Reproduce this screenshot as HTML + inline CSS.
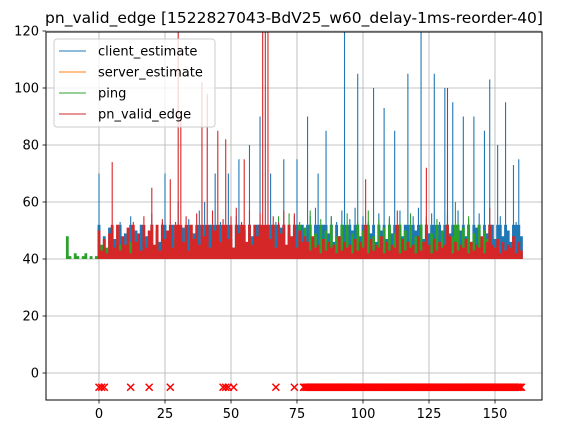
<!DOCTYPE html>
<html><head><meta charset="utf-8"><style>
html,body{margin:0;padding:0;background:#fff;}
svg{display:block;font-family:"DejaVu Sans","Liberation Sans",sans-serif;}
</style></head><body>
<svg id="chart" width="572" height="435" xmlns="http://www.w3.org/2000/svg">
<defs><clipPath id="clip"><rect x="46" y="32" width="496" height="368"/></clipPath></defs>
<text x="294" y="23" font-size="15.5" text-anchor="middle">pn_valid_edge [1522827043-BdV25_w60_delay-1ms-reorder-40]</text>
<g id="grid"></g>
<g id="series" clip-path="url(#clip)"></g>
<rect x="46" y="32" width="496" height="368" fill="none" stroke="#000" stroke-width="1"/>
<g id="ticks"></g>
<g>
<rect x="54" y="39" width="161" height="88" fill="#fff" fill-opacity="0.8" stroke="#ccc" rx="3"/>
<g><line x1="59" y1="51" x2="86" y2="51" stroke="#1f77b4" stroke-width="1"/><text x="98" y="55.5" font-size="13">client_estimate</text></g>
<g><line x1="59" y1="72" x2="86" y2="72" stroke="#ff7f0e" stroke-width="1"/><text x="98" y="76.5" font-size="13">server_estimate</text></g>
<g><line x1="59" y1="93" x2="86" y2="93" stroke="#2ca02c" stroke-width="1"/><text x="98" y="97.5" font-size="13">ping</text></g>
<g><line x1="59" y1="114" x2="86" y2="114" stroke="#d62728" stroke-width="1"/><text x="98" y="118.5" font-size="13">pn_valid_edge</text></g>
</g>
</svg>
<script>
const xTicks=[0,25,50,75,100,125,150];
const yTicks=[0,20,40,60,80,100,120];
const clientStart=0;
const clientValues=[70,44,48,43,51,42,47,45,53,44,49,43,55,46,50,42,52,45,48,44,56,43,50,46,53,70,47,44,52,45,60,43,51,46,54,44,49,45,57,43,60,46,52,44,70,45,53,43,50,70,47,44,55,75,46,50,43,80,48,45,52,90,46,50,44,70,47,53,45,51,75,44,49,46,55,75,45,52,47,90,55,46,58,70,47,52,85,49,55,46,53,48,57,120,47,54,50,58,105,48,55,47,53,49,100,46,56,50,93,47,54,49,85,46,57,48,52,105,47,55,50,58,120,47,54,49,56,105,48,53,46,100,55,49,95,47,57,50,90,48,54,46,90,51,56,47,85,49,103,52,47,80,55,48,95,50,46,73,53,75,48];
const pingStart=-13;
const pingValues=[40,48,41,40,42,41,40,41,42,40,41,40,41,
41,45,42,44,40,46,43,41,45,42,44,40,46,43,41,47,42,44,40,45,43,41,46,42,44,40,45,43,41,47,42,44,40,46,43,41,45,42,44,40,46,43,41,47,42,44,40,45,43,41,46,42,44,40,45,43,41,47,42,44,40,46,43,41,45,42,
52,42,55,44,50,41,56,45,48,42,53,43,51,41,57,44,49,42,54,43,50,41,55,45,48,42,52,43,56,41,49,44,53,42,50,41,57,43,48,42,54,44,51,41,55,43,49,42,53,44,50,41,56,43,48,42,52,44,55,41,49,43,54,42,50,41,57,44,48,60,53,43,51,41,55,44,49,42,52,43,50,47];
const edgeStart=0;
const edgeValues=[50,43,47,42,49,74,44,52,43,48,45,51,42,53,46,49,43,55,44,50,65,45,52,43,54,47,50,68,44,53,125,90,46,55,43,52,47,56,45,102,48,98,44,57,50,85,46,54,82,47,55,44,58,49,53,75,46,57,45,52,48,56,125,125,125,47,55,44,53,49,57,45,52,48,56,44,50,46,48,
46,43,48,44,45,42,47,43,46,44,45,42,48,43,46,44,45,42,47,43,46,44,68,42,47,43,45,44,48,42,46,43,45,44,57,42,47,43,46,44,45,42,48,43,46,72,45,42,47,43,46,44,45,100,48,42,46,43,45,44,47,42,46,43,45,44,48,42,46,58,45,44,47,42,46,43,45,44,48,42,46,43];
const invalidX=[0,1,2,12,19,27,47,48,49,51,67,74];
const invalidRunStart=77.5, invalidRunEnd=160;
const invalidY=-5;
const barBase=40;
const bandTop=52;

const X=v=>99+v*2.64;
const Y=v=>373-v*2.85;
const NS="http://www.w3.org/2000/svg";
function mk(tag,attrs,parent){const e=document.createElementNS(NS,tag);for(const k in attrs)e.setAttribute(k,attrs[k]);parent.appendChild(e);return e;}
const grid=document.getElementById('grid'),ticks=document.getElementById('ticks'),series=document.getElementById('series');
xTicks.forEach(t=>{
  const g=mk('line',{x1:X(t),x2:X(t),y1:32,y2:400,stroke:'#b0b0b0','stroke-width':0.8},grid);
  
  
  mk('line',{x1:X(t),x2:X(t),y1:400,y2:403.5,stroke:'#000','stroke-width':0.8},ticks);
  const l=mk('text',{x:X(t),y:418,'font-size':13,'text-anchor':'middle'},ticks);
  l.textContent=t;
  
  
});
yTicks.forEach(t=>{
  const g=mk('line',{x1:46,x2:542,y1:Y(t),y2:Y(t),stroke:'#b0b0b0','stroke-width':0.8},grid);
  
  
  mk('line',{x1:42.5,x2:46,y1:Y(t),y2:Y(t),stroke:'#000','stroke-width':0.8},ticks);
  const l=mk('text',{x:39,y:Y(t)+4.5,'font-size':13,'text-anchor':'end'},ticks);
  l.textContent=t;
  
  
});
function bars(vals,start,color,name,w){
  let thick='',thin='';
  vals.forEach((v,i)=>{
    const x=X(start+i).toFixed(2);
    const top=Math.min(v,bandTop);
    thick+=`M${x},${Y(barBase).toFixed(2)}V${Y(top).toFixed(2)}`;
    if(v>bandTop)thin+=`M${x},${Y(bandTop).toFixed(2)}V${Y(v).toFixed(2)}`;
  });
  const p=mk('path',{d:thick,fill:'none',stroke:color,'stroke-width':w},series);
  
  
  const q=mk('path',{d:thin,fill:'none',stroke:color,'stroke-width':1.1},series);
  
  
}
bars(clientValues,clientStart,'#1f77b4','client-estimate-series',2.9);
bars(pingValues,pingStart,'#2ca02c','ping-series',2.8);
bars(edgeValues,edgeStart,'#d62728','pn-valid-edge-series',2.8);
function cross(x){
  const cx=X(x),cy=Y(invalidY),r=3.5;
  const g=mk('path',{d:`M${cx-r},${cy-r}L${cx+r},${cy+r}M${cx-r},${cy+r}L${cx+r},${cy-r}`,stroke:'#ff0000','stroke-width':1.5,fill:'none'},series);
  
  
}
invalidX.forEach(cross);
for(let x=invalidRunStart;x<=invalidRunEnd;x+=0.5)cross(x);
</script>
</body></html>
